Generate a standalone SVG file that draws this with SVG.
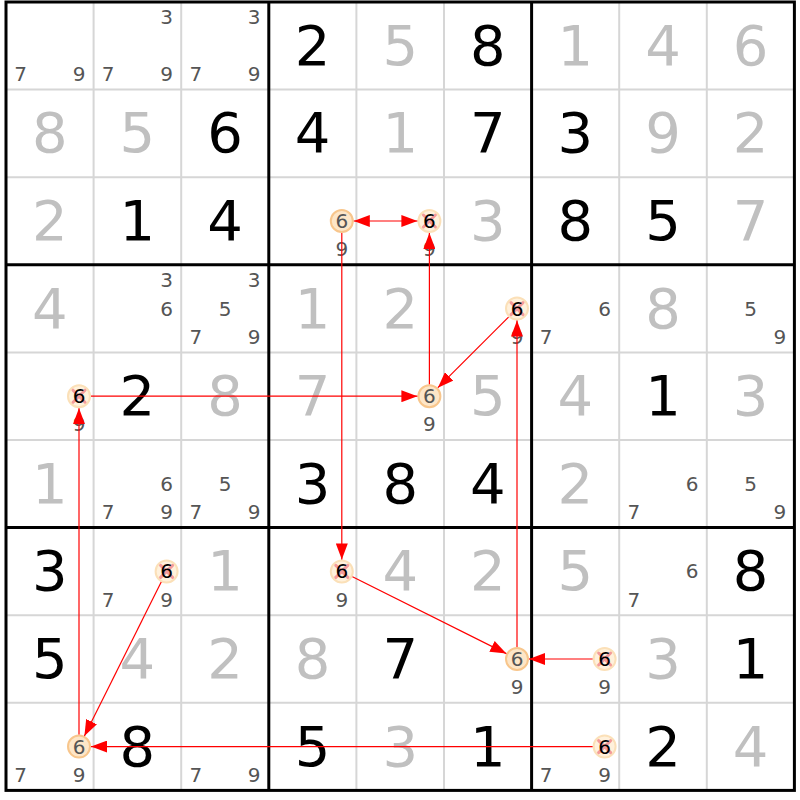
<svg xmlns="http://www.w3.org/2000/svg" width="800" height="800" viewBox="0 0 800 800">
<style>
text{font-family:"DejaVu Sans","Liberation Sans",sans-serif;text-anchor:middle}
.g{font-size:56px;fill:#000}
.s{font-size:56px;fill:#c0c0c0}
.c{font-size:20px;fill:#555}
.k{font-size:20px;fill:#000}
.thin{stroke:#d6d6d6;stroke-width:2}
.thick{stroke:#000;stroke-width:3;fill:none}
.ring{fill:#fde6c8;stroke:#f8c68c;stroke-width:2}
.xring{fill:#fff1dc;stroke:#fbe0b8;stroke-width:2}
.x{stroke:#f49a9a;stroke-width:3;stroke-linecap:round}
.a{stroke:#ff0000;stroke-width:1.2;fill:none;marker-end:url(#ah)}
</style>
<defs>
<marker id="ah" markerUnits="userSpaceOnUse" markerWidth="17" markerHeight="12" refX="16" refY="6" orient="auto-start-reverse">
<path d="M0,0 L16,6 L0,12 z" fill="#ff0000"/>
</marker>
</defs>
<rect x="0" y="0" width="800" height="800" fill="#fff"/>
<g id="grid">
<line class="thin" x1="93.6" y1="2" x2="93.6" y2="790.4"/>
<line class="thin" x1="181.2" y1="2" x2="181.2" y2="790.4"/>
<line class="thin" x1="356.4" y1="2" x2="356.4" y2="790.4"/>
<line class="thin" x1="444" y1="2" x2="444" y2="790.4"/>
<line class="thin" x1="619.2" y1="2" x2="619.2" y2="790.4"/>
<line class="thin" x1="706.8" y1="2" x2="706.8" y2="790.4"/>
<line class="thin" x1="6" y1="89.6" x2="794.4" y2="89.6"/>
<line class="thin" x1="6" y1="177.2" x2="794.4" y2="177.2"/>
<line class="thin" x1="6" y1="352.4" x2="794.4" y2="352.4"/>
<line class="thin" x1="6" y1="440" x2="794.4" y2="440"/>
<line class="thin" x1="6" y1="615.2" x2="794.4" y2="615.2"/>
<line class="thin" x1="6" y1="702.8" x2="794.4" y2="702.8"/>
<line class="thick" x1="268.8" y1="2" x2="268.8" y2="790.4"/>
<line class="thick" x1="531.6" y1="2" x2="531.6" y2="790.4"/>
<line class="thick" x1="6" y1="264.8" x2="794.4" y2="264.8"/>
<line class="thick" x1="6" y1="527.6" x2="794.4" y2="527.6"/>
<rect class="thick" x="6" y="2" width="788.4" height="788.4"/>
</g>
<g id="cells">
<!-- Row 1 -->
<g id="r1c1"><text class="c" x="20.6" y="81">7</text><text class="c" x="79" y="81">9</text></g>
<g id="r1c2"><text class="c" x="166.6" y="24">3</text><text class="c" x="108.2" y="81">7</text><text class="c" x="166.6" y="81">9</text></g>
<g id="r1c3"><text class="c" x="254.2" y="24">3</text><text class="c" x="195.8" y="81">7</text><text class="c" x="254.2" y="81">9</text></g>
<g id="r1c4"><text class="g" x="312.6" y="64.8">2</text></g>
<g id="r1c5"><text class="s" x="400.2" y="64.8">5</text></g>
<g id="r1c6"><text class="g" x="487.8" y="64.8">8</text></g>
<g id="r1c7"><text class="s" x="575.4" y="64.8">1</text></g>
<g id="r1c8"><text class="s" x="663" y="64.8">4</text></g>
<g id="r1c9"><text class="s" x="750.6" y="64.8">6</text></g>
<!-- Row 2 -->
<g id="r2c1"><text class="s" x="49.8" y="152.4">8</text></g>
<g id="r2c2"><text class="s" x="137.4" y="152.4">5</text></g>
<g id="r2c3"><text class="g" x="225" y="152.4">6</text></g>
<g id="r2c4"><text class="g" x="312.6" y="152.4">4</text></g>
<g id="r2c5"><text class="s" x="400.2" y="152.4">1</text></g>
<g id="r2c6"><text class="g" x="487.8" y="152.4">7</text></g>
<g id="r2c7"><text class="g" x="575.4" y="152.4">3</text></g>
<g id="r2c8"><text class="s" x="663" y="152.4">9</text></g>
<g id="r2c9"><text class="s" x="750.6" y="152.4">2</text></g>
<!-- Row 3 -->
<g id="r3c1"><text class="s" x="49.8" y="240">2</text></g>
<g id="r3c2"><text class="g" x="137.4" y="240">1</text></g>
<g id="r3c3"><text class="g" x="225" y="240">4</text></g>
<g id="r3c4"><circle class="ring" cx="341.8" cy="221" r="11"/><text class="c" x="341.8" y="228">6</text><text class="c" x="341.8" y="256.2">9</text></g>
<g id="r3c5"><text class="c" x="429.4" y="256.2">9</text><circle class="xring" cx="429.4" cy="221" r="11"/><line class="x" x1="423.4" y1="215" x2="435.4" y2="227"/><line class="x" x1="435.4" y1="215" x2="423.4" y2="227"/><text class="k" x="429.4" y="228">6</text></g>
<g id="r3c6"><text class="s" x="487.8" y="240">3</text></g>
<g id="r3c7"><text class="g" x="575.4" y="240">8</text></g>
<g id="r3c8"><text class="g" x="663" y="240">5</text></g>
<g id="r3c9"><text class="s" x="750.6" y="240">7</text></g>
<!-- Row 4 -->
<g id="r4c1"><text class="s" x="49.8" y="327.6">4</text></g>
<g id="r4c2"><text class="c" x="166.6" y="286.8">3</text><text class="c" x="166.6" y="315.6">6</text></g>
<g id="r4c3"><text class="c" x="254.2" y="286.8">3</text><text class="c" x="225" y="315.6">5</text><text class="c" x="195.8" y="343.8">7</text><text class="c" x="254.2" y="343.8">9</text></g>
<g id="r4c4"><text class="s" x="312.6" y="327.6">1</text></g>
<g id="r4c5"><text class="s" x="400.2" y="327.6">2</text></g>
<g id="r4c6"><text class="c" x="517" y="343.8">9</text><circle class="xring" cx="517" cy="308.6" r="11"/><line class="x" x1="511" y1="302.6" x2="523" y2="314.6"/><line class="x" x1="523" y1="302.6" x2="511" y2="314.6"/><text class="k" x="517" y="315.6">6</text></g>
<g id="r4c7"><text class="c" x="604.6" y="315.6">6</text><text class="c" x="546.2" y="343.8">7</text></g>
<g id="r4c8"><text class="s" x="663" y="327.6">8</text></g>
<g id="r4c9"><text class="c" x="750.6" y="315.6">5</text><text class="c" x="779.8" y="343.8">9</text></g>
<!-- Row 5 -->
<g id="r5c1"><text class="c" x="79" y="431.4">9</text><circle class="xring" cx="79" cy="396.2" r="11"/><line class="x" x1="73" y1="390.2" x2="85" y2="402.2"/><line class="x" x1="85" y1="390.2" x2="73" y2="402.2"/><text class="k" x="79" y="403.2">6</text></g>
<g id="r5c2"><text class="g" x="137.4" y="415.2">2</text></g>
<g id="r5c3"><text class="s" x="225" y="415.2">8</text></g>
<g id="r5c4"><text class="s" x="312.6" y="415.2">7</text></g>
<g id="r5c5"><circle class="ring" cx="429.4" cy="396.2" r="11"/><text class="c" x="429.4" y="403.2">6</text><text class="c" x="429.4" y="431.4">9</text></g>
<g id="r5c6"><text class="s" x="487.8" y="415.2">5</text></g>
<g id="r5c7"><text class="s" x="575.4" y="415.2">4</text></g>
<g id="r5c8"><text class="g" x="663" y="415.2">1</text></g>
<g id="r5c9"><text class="s" x="750.6" y="415.2">3</text></g>
<!-- Row 6 -->
<g id="r6c1"><text class="s" x="49.8" y="502.8">1</text></g>
<g id="r6c2"><text class="c" x="166.6" y="490.8">6</text><text class="c" x="108.2" y="519">7</text><text class="c" x="166.6" y="519">9</text></g>
<g id="r6c3"><text class="c" x="225" y="490.8">5</text><text class="c" x="195.8" y="519">7</text><text class="c" x="254.2" y="519">9</text></g>
<g id="r6c4"><text class="g" x="312.6" y="502.8">3</text></g>
<g id="r6c5"><text class="g" x="400.2" y="502.8">8</text></g>
<g id="r6c6"><text class="g" x="487.8" y="502.8">4</text></g>
<g id="r6c7"><text class="s" x="575.4" y="502.8">2</text></g>
<g id="r6c8"><text class="c" x="692.2" y="490.8">6</text><text class="c" x="633.8" y="519">7</text></g>
<g id="r6c9"><text class="c" x="750.6" y="490.8">5</text><text class="c" x="779.8" y="519">9</text></g>
<!-- Row 7 -->
<g id="r7c1"><text class="g" x="49.8" y="590.4">3</text></g>
<g id="r7c2"><circle class="xring" cx="166.6" cy="571.4" r="11"/><line class="x" x1="160.6" y1="565.4" x2="172.6" y2="577.4"/><line class="x" x1="172.6" y1="565.4" x2="160.6" y2="577.4"/><text class="k" x="166.6" y="578.4">6</text><text class="c" x="108.2" y="606.6">7</text><text class="c" x="166.6" y="606.6">9</text></g>
<g id="r7c3"><text class="s" x="225" y="590.4">1</text></g>
<g id="r7c4"><circle class="xring" cx="341.8" cy="571.4" r="11"/><line class="x" x1="335.8" y1="565.4" x2="347.8" y2="577.4"/><line class="x" x1="347.8" y1="565.4" x2="335.8" y2="577.4"/><text class="k" x="341.8" y="578.4">6</text><text class="c" x="341.8" y="606.6">9</text></g>
<g id="r7c5"><text class="s" x="400.2" y="590.4">4</text></g>
<g id="r7c6"><text class="s" x="487.8" y="590.4">2</text></g>
<g id="r7c7"><text class="s" x="575.4" y="590.4">5</text></g>
<g id="r7c8"><text class="c" x="692.2" y="578.4">6</text><text class="c" x="633.8" y="606.6">7</text></g>
<g id="r7c9"><text class="g" x="750.6" y="590.4">8</text></g>
<!-- Row 8 -->
<g id="r8c1"><text class="g" x="49.8" y="678">5</text></g>
<g id="r8c2"><text class="s" x="137.4" y="678">4</text></g>
<g id="r8c3"><text class="s" x="225" y="678">2</text></g>
<g id="r8c4"><text class="s" x="312.6" y="678">8</text></g>
<g id="r8c5"><text class="g" x="400.2" y="678">7</text></g>
<g id="r8c6"><circle class="ring" cx="517" cy="659" r="11"/><text class="c" x="517" y="666">6</text><text class="c" x="517" y="694.2">9</text></g>
<g id="r8c7"><circle class="xring" cx="604.6" cy="659" r="11"/><line class="x" x1="598.6" y1="653" x2="610.6" y2="665"/><line class="x" x1="610.6" y1="653" x2="598.6" y2="665"/><text class="k" x="604.6" y="666">6</text><text class="c" x="604.6" y="694.2">9</text></g>
<g id="r8c8"><text class="s" x="663" y="678">3</text></g>
<g id="r8c9"><text class="g" x="750.6" y="678">1</text></g>
<!-- Row 9 -->
<g id="r9c1"><circle class="ring" cx="79" cy="746.6" r="11"/><text class="c" x="79" y="753.6">6</text><text class="c" x="20.6" y="781.8">7</text><text class="c" x="79" y="781.8">9</text></g>
<g id="r9c2"><text class="g" x="137.4" y="765.6">8</text></g>
<g id="r9c3"><text class="c" x="195.8" y="781.8">7</text><text class="c" x="254.2" y="781.8">9</text></g>
<g id="r9c4"><text class="g" x="312.6" y="765.6">5</text></g>
<g id="r9c5"><text class="s" x="400.2" y="765.6">3</text></g>
<g id="r9c6"><text class="g" x="487.8" y="765.6">1</text></g>
<g id="r9c7"><circle class="xring" cx="604.6" cy="746.6" r="11"/><line class="x" x1="598.6" y1="740.6" x2="610.6" y2="752.6"/><line class="x" x1="610.6" y1="740.6" x2="598.6" y2="752.6"/><text class="k" x="604.6" y="753.6">6</text><text class="c" x="546.2" y="781.8">7</text><text class="c" x="604.6" y="781.8">9</text></g>
<g id="r9c8"><text class="g" x="663" y="765.6">2</text></g>
<g id="r9c9"><text class="s" x="750.6" y="765.6">4</text></g>
</g>
<g id="connectors">
<line class="a" x1="353.8" y1="221" x2="417.4" y2="221" marker-start="url(#ah)"/>
<line class="a" x1="429.4" y1="384.2" x2="429.4" y2="233"/>
<line class="a" x1="341.8" y1="233" x2="341.8" y2="559.4"/>
<line class="a" x1="508.5" y1="317.1" x2="437.9" y2="387.7"/>
<line class="a" x1="517" y1="647" x2="517" y2="320.6"/>
<line class="a" x1="352.5" y1="576.8" x2="506.3" y2="653.6"/>
<line class="a" x1="592.6" y1="659" x2="529" y2="659"/>
<line class="a" x1="592.6" y1="746.6" x2="91" y2="746.6"/>
<line class="a" x1="161.2" y1="582.1" x2="84.4" y2="735.9"/>
<line class="a" x1="79" y1="734.6" x2="79" y2="408.2"/>
<line class="a" x1="91" y1="396.2" x2="417.4" y2="396.2"/>
</g>
</svg>
